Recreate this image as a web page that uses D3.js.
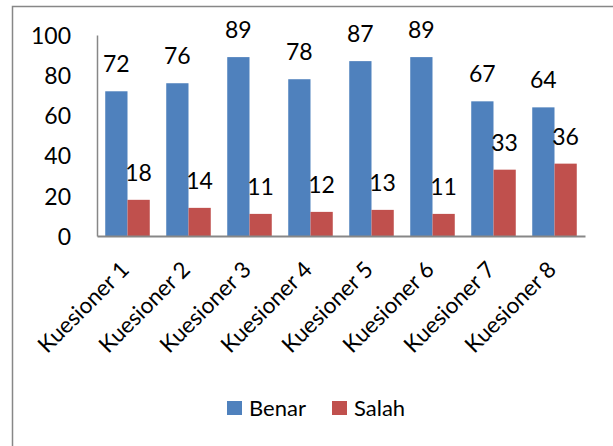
<!DOCTYPE html>
<html>
<head>
<meta charset="utf-8">
<script src="https://cdn.jsdelivr.net/npm/d3@7"></script>
<style>
  body { margin:0; background:#fff; }
  text { font-family: Lato, "Open Sans", sans-serif; fill:#000; }
</style>
</head>
<body>
<div id="canvas"></div>
<script>
// data
var categories = ['Kuesioner 1','Kuesioner 2','Kuesioner 3','Kuesioner 4','Kuesioner 5','Kuesioner 6','Kuesioner 7','Kuesioner 8'];
var benar = [72,76,89,78,87,89,67,64];
var salah = [18,14,11,12,13,11,33,36];
var seriesNames = ['Benar','Salah'];
var seriesColors = ['#4F81BD','#C0504D'];
var yTicks = [0,20,40,60,80,100];

var W = 613, H = 446;
var m = {t:35, r:28, b:210, l:97};
var w = W - m.l - m.r,
    h = H - m.t - m.b;

var svg = d3.select('#canvas')
    .append('svg')
    .attr('width',W)
    .attr('height',H);

// outer frame (runs off the right and bottom edge)
svg.append('rect')
    .attr('x',12.5).attr('y',6.5)
    .attr('width',700).attr('height',500)
    .attr('fill','none')
    .attr('stroke','#878787')
    .attr('stroke-width',1.5);

var plot = svg.append('g')
    .attr('transform','translate(' + m.l + ',' + m.t + ')');

var scaleX = d3.scaleBand()
    .domain(categories)
    .range([0,w])
    .paddingInner(0.27)
    .paddingOuter(0.135);

var scaleSeries = d3.scaleBand()
    .domain(seriesNames)
    .range([0,scaleX.bandwidth()]);

var scaleY = d3.scaleLinear()
    .domain([0,100])
    .range([h,0]);

var rows = categories.map(function(c,i){
  return {cat:c, values:[{s:'Benar',v:benar[i]},{s:'Salah',v:salah[i]}]};
});

var groups = plot.selectAll('.group')
    .data(rows)
    .enter()
    .append('g')
    .attr('class','group')
    .attr('transform',function(d){return 'translate(' + scaleX(d.cat) + ',0)'});

groups.selectAll('rect')
    .data(function(d){return d.values})
    .enter()
    .append('rect')
    .attr('x',function(d){return scaleSeries(d.s)})
    .attr('y',function(d){return scaleY(d.v)})
    .attr('width',scaleSeries.bandwidth())
    .attr('height',function(d){return h - scaleY(d.v)})
    .attr('fill',function(d,i){return seriesColors[i]});

// value labels
groups.selectAll('.val')
    .data(function(d){return d.values})
    .enter()
    .append('text')
    .attr('class','val')
    .attr('x',function(d){return scaleSeries(d.s) + scaleSeries.bandwidth()/2})
    .attr('y',function(d){return scaleY(d.v) - 19})
    .attr('text-anchor','middle')
    .style('font-size','23px')
    .text(function(d){return d.v});

// y axis
var axisY = d3.axisLeft()
    .scale(scaleY)
    .tickValues(yTicks)
    .tickSize(0)
    .tickPadding(26);

var gy = plot.append('g').attr('class','axis').call(axisY);
gy.select('.domain').attr('stroke','#878787').attr('stroke-width',1.5);
gy.selectAll('text').style('font-size','23px').attr('dy','0.36em');

// x axis
var axisX = d3.axisBottom()
    .scale(scaleX)
    .tickSize(0)
    .tickFormat('');

var gx = plot.append('g')
    .attr('class','axis')
    .attr('transform','translate(0,' + h + ')')
    .call(axisX);
gx.select('.domain').attr('stroke','#878787').attr('stroke-width',2);

plot.selectAll('.xlab')
    .data(categories)
    .enter()
    .append('text')
    .attr('class','xlab')
    .attr('text-anchor','end')
    .style('font-size','22.5px')
    .attr('transform',function(d){
      return 'translate(' + (scaleX(d) + scaleX.bandwidth()/2 + 3) + ',' + (h + 35) + ') rotate(-45)';
    })
    .text(function(d){return d});

// legend
var legend = svg.append('g').attr('transform','translate(227,401)');
var lg = legend.selectAll('.lg')
    .data(seriesNames)
    .enter()
    .append('g')
    .attr('class','lg')
    .attr('transform',function(d,i){return 'translate(' + (i*105) + ',0)'});
lg.append('rect')
    .attr('width',15).attr('height',14)
    .attr('fill',function(d,i){return seriesColors[i]});
lg.append('text')
    .attr('x',22).attr('y',15)
    .style('font-size','22px')
    .text(function(d){return d});
</script>
</body>
</html>
